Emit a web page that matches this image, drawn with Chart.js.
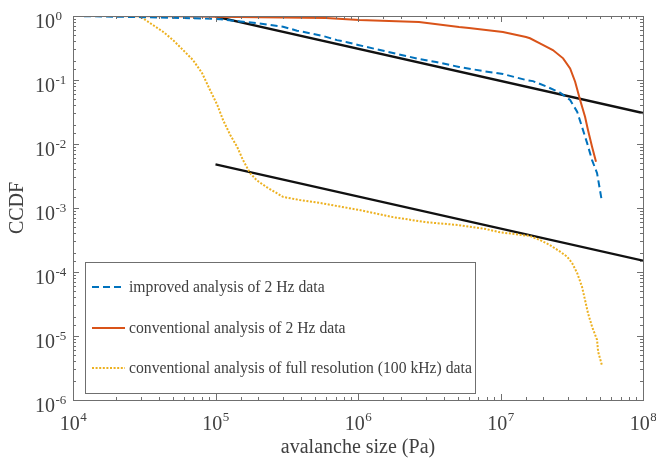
<!DOCTYPE html>
<html>
<head>
<meta charset="utf-8">
<script src="https://cdn.jsdelivr.net/npm/chart.js@4/dist/chart.umd.min.js"></script>
<style>
  html, body { margin: 0; padding: 0; background: #ffffff; }
  #wrap { width: 656px; height: 461px; position: relative; }
</style>
</head>
<body>
<div id="wrap"><canvas id="c" width="656" height="461"></canvas></div>
<script>
// ---- data ----
const seriesLabels = [
  'improved analysis of 2 Hz data',
  'conventional analysis of 2 Hz data',
  'conventional analysis of full resolution (100 kHz) data'
];
const xTitle = 'avalanche size (Pa)';
const yTitle = 'CCDF';

const blueX = [1e4, 3e4, 6e4, 1.0e5, 1.08e5, 1.56e5, 1.99e5, 2.98e5, 3.73e5, 4.6e5, 5.68e5, 7.12e5, 8.37e5, 1.0e6, 1.76e6, 2.68e6, 3.53e6, 5.12e6, 7.54e6, 1.04e7, 1.51e7, 1.69e7, 2.12e7, 2.62e7, 3.08e7, 3.45e7, 3.73e7, 4.05e7, 4.39e7, 4.76e7, 4.99e7, 5.15e7];
const blueY = [1.0, 0.96, 0.93, 0.9, 0.888, 0.815, 0.77, 0.68, 0.59, 0.537, 0.487, 0.42, 0.39, 0.353, 0.264, 0.213, 0.191, 0.16, 0.138, 0.124, 0.1, 0.096, 0.0785, 0.0633, 0.0487, 0.032, 0.0186, 0.0104, 0.0056, 0.0035, 0.0019, 0.00126];

const orangeX = [1.82e4, 5e4, 1e5, 2e5, 3e5, 5.96e5, 1.02e6, 2.68e6, 5.12e6, 6.01e6, 1.04e7, 1.51e7, 1.61e7, 1.89e7, 2.33e7, 2.75e7, 3.08e7, 3.34e7, 3.62e7, 3.92e7, 4.11e7, 4.39e7, 4.68e7];
const orangeY = [1.0, 0.99, 0.97, 0.96, 0.95, 0.93, 0.866, 0.806, 0.673, 0.65, 0.562, 0.47, 0.449, 0.374, 0.294, 0.218, 0.152, 0.094, 0.0487, 0.0267, 0.0166, 0.00908, 0.00528];

const yellowX = [1e4, 2.51e4, 2.95e4, 3.1e4, 3.64e4, 4.28e4, 5.03e4, 5.92e4, 6.95e4, 8.04e4, 9.15e4, 1.03e5, 1.13e5, 1.27e5, 1.42e5, 1.56e5, 1.75e5, 1.95e5, 2.3e5, 2.98e5, 3.92e5, 5.41e5, 1.02e6, 1.76e6, 3.0e6, 5.12e6, 7.9e6, 9.75e6, 1.61e7, 1.89e7, 2.22e7, 2.62e7, 2.93e7, 3.18e7, 3.45e7, 3.73e7, 3.92e7, 4.11e7, 4.39e7, 4.76e7, 4.84e7, 5.15e7];
const yellowY = [1.0, 1.0, 0.99, 0.92, 0.723, 0.568, 0.422, 0.294, 0.205, 0.129, 0.0698, 0.0407, 0.0237, 0.0138, 0.009, 0.0056, 0.0035, 0.0027, 0.0021, 0.00149, 0.00133, 0.0012, 0.00093, 0.00072, 0.0006, 0.00054, 0.00047, 0.00042, 0.000365, 0.000316, 0.000264, 0.000208, 0.000174, 0.000138, 0.0000965, 0.0000589, 0.0000365, 0.0000229, 0.000014, 0.0000087, 0.0000057, 0.0000035];

const fitUpperX = [1e5, 1e8];
const fitUpperY = [0.98, 0.0305];
const fitLowerX = [1e5, 1e8];
const fitLowerY = [0.0048, 0.00015];

const xMin = 1e4, xMax = 1e8;
const yMin = 1e-6, yMax = 1;

// ---- helpers ----
function pts(xs, ys) { return xs.map((x, i) => ({ x: x, y: ys[i] })); }
function isMajor(v) { const e = Math.log10(v); return Math.abs(e - Math.round(e)) < 1e-6; }
function expOf(v) { return Math.round(Math.log10(v)); }

const AXIS_COLOR = '#6f6f6f';
const TEXT_COLOR = '#404040';
const FONT = "'Liberation Serif', 'Times New Roman', serif";
const BASE_FONT = '20px ' + FONT;
const EXP_FONT = '13px ' + FONT;

// ---- plugin: box, inner ticks, power-of-ten labels, legend ----
const matlabAxes = {
  id: 'matlabAxes',
  afterDraw(chart) {
    const ctx = chart.ctx;
    const a = chart.chartArea;
    const xs = chart.scales.x, ys = chart.scales.y;
    ctx.save();
    ctx.strokeStyle = AXIS_COLOR;
    ctx.lineWidth = 1;
    // box
    ctx.beginPath();
    ctx.rect(Math.round(a.left) + 0.5, Math.round(a.top) + 0.5, Math.round(a.right - a.left), Math.round(a.bottom - a.top));
    ctx.stroke();
    // inner ticks (bottom/top, left/right)
    ctx.beginPath();
    xs.ticks.forEach(t => {
      const px = Math.round(xs.getPixelForValue(t.value)) + 0.5;
      const len = isMajor(t.value) ? 6 : 3;
      ctx.moveTo(px, a.bottom); ctx.lineTo(px, a.bottom - len);
      ctx.moveTo(px, a.top); ctx.lineTo(px, a.top + len);
    });
    ys.ticks.forEach(t => {
      const py = Math.round(ys.getPixelForValue(t.value)) + 0.5;
      const len = isMajor(t.value) ? 6 : 3;
      ctx.moveTo(a.left, py); ctx.lineTo(a.left + len, py);
      ctx.moveTo(a.right, py); ctx.lineTo(a.right - len, py);
    });
    ctx.stroke();

    // tick labels 10^n
    ctx.fillStyle = TEXT_COLOR;
    ctx.textBaseline = 'alphabetic';
    ctx.textAlign = 'left';
    xs.ticks.forEach(t => {
      if (!isMajor(t.value)) return;
      const e = String(expOf(t.value));
      const px = xs.getPixelForValue(t.value);
      ctx.font = BASE_FONT; const wb = ctx.measureText('10').width;
      ctx.font = EXP_FONT; const we = ctx.measureText(e).width;
      const x0 = px - (wb + we) / 2;
      ctx.font = BASE_FONT; ctx.fillText('10', x0, a.bottom + 30);
      ctx.font = EXP_FONT; ctx.fillText(e, x0 + wb + 0.5, a.bottom + 21);
    });
    ys.ticks.forEach(t => {
      if (!isMajor(t.value)) return;
      const e = String(expOf(t.value));
      const py = ys.getPixelForValue(t.value);
      const xr = a.left - 18;
      ctx.font = BASE_FONT; ctx.textAlign = 'right'; ctx.fillText('10', xr, py + 11.5);
      ctx.font = EXP_FONT; ctx.textAlign = 'left'; ctx.fillText(e, xr + 0.5, py + 3.5);
    });

    // legend
    const L = { x: 85.5, y: 262.5, w: 390, h: 131 };
    ctx.fillStyle = '#ffffff';
    ctx.fillRect(L.x, L.y, L.w, L.h);
    ctx.strokeStyle = AXIS_COLOR;
    ctx.strokeRect(L.x, L.y, L.w, L.h);
    const rows = [287, 328, 368];
    ctx.font = '15.7px ' + FONT;
    ctx.textBaseline = 'middle';
    ctx.textAlign = 'left';
    for (let i = 0; i < 3; i++) {
      const ds = chart.data.datasets[i];
      ctx.save();
      ctx.strokeStyle = ds.borderColor;
      ctx.lineWidth = ds.borderWidth;
      ctx.setLineDash(ds.borderDash || []);
      ctx.beginPath();
      ctx.moveTo(92, rows[i]); ctx.lineTo(125, rows[i]);
      ctx.stroke();
      ctx.restore();
      ctx.fillStyle = TEXT_COLOR;
      ctx.fillText(ds.label, 129, rows[i] + 1);
    }
    ctx.restore();
  }
};

new Chart(document.getElementById('c'), {
  type: 'line',
  data: {
    datasets: [
      { label: seriesLabels[0], data: pts(blueX, blueY), borderColor: '#0072BD', borderWidth: 2, borderDash: [7, 4], pointRadius: 0, fill: false, tension: 0 },
      { label: seriesLabels[1], data: pts(orangeX, orangeY), borderColor: '#D95319', borderWidth: 2, pointRadius: 0, fill: false, tension: 0 },
      { label: seriesLabels[2], data: pts(yellowX, yellowY), borderColor: '#EDB120', borderWidth: 2, borderDash: [2, 1.6], pointRadius: 0, fill: false, tension: 0 },
      { label: 'fit upper', data: pts(fitUpperX, fitUpperY), borderColor: '#111111', borderWidth: 2.3, pointRadius: 0, fill: false },
      { label: 'fit lower', data: pts(fitLowerX, fitLowerY), borderColor: '#111111', borderWidth: 2.3, pointRadius: 0, fill: false }
    ]
  },
  options: {
    responsive: false,
    animation: false,
    events: [],
    layout: { padding: { top: 16, right: 13, left: 0, bottom: 0 } },
    plugins: { legend: { display: false }, tooltip: { enabled: false } },
    scales: {
      x: {
        type: 'logarithmic',
        min: xMin, max: xMax,
        grid: { display: false, drawTicks: false },
        border: { display: true, color: AXIS_COLOR, width: 1 },
        ticks: { display: false, autoSkip: false },
        title: { display: true, text: xTitle, color: TEXT_COLOR, font: { family: FONT, size: 20 }, padding: { top: 0, bottom: 1 } },
        afterFit: (s) => { s.height = 61; s.paddingLeft = 0; s.paddingRight = 0; }
      },
      y: {
        type: 'logarithmic',
        min: yMin, max: yMax,
        grid: { display: false, drawTicks: false },
        border: { display: true, color: AXIS_COLOR, width: 1 },
        ticks: { display: false, autoSkip: false },
        title: { display: true, text: yTitle, color: TEXT_COLOR, font: { family: FONT, size: 20 }, padding: { top: 6, bottom: 0 } },
        afterFit: (s) => { s.width = 73; s.paddingTop = 0; s.paddingBottom = 0; }
      }
    }
  },
  plugins: [matlabAxes]
});
</script>
</body>
</html>
